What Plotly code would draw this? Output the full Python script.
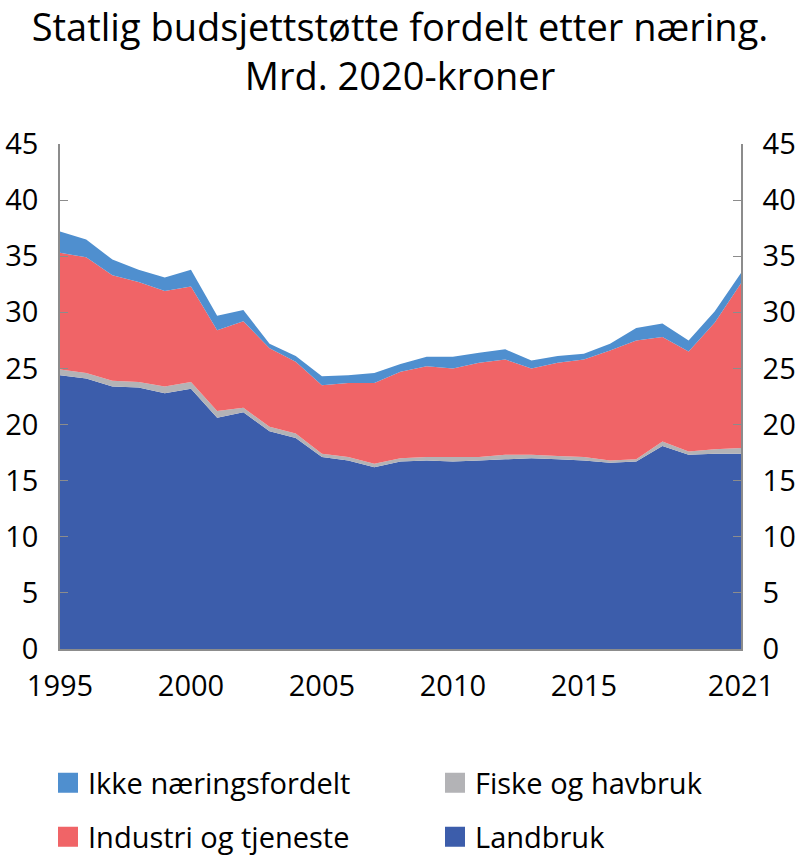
import plotly.graph_objects as go

years = list(range(1995, 2022))

# Values per category (Mrd. 2020-kroner)
landbruk = [24.4, 24.1, 23.4, 23.3, 22.8, 23.2, 20.6, 21.1, 19.4, 18.8, 17.1, 16.8, 16.2,
            16.7, 16.8, 16.7, 16.8, 16.9, 17.0, 16.9, 16.8, 16.6, 16.7, 18.1, 17.3, 17.4, 17.4]
fiske = [0.5, 0.5, 0.5, 0.5, 0.6, 0.6, 0.6, 0.4, 0.4, 0.4, 0.3, 0.3, 0.3,
         0.3, 0.3, 0.4, 0.3, 0.4, 0.3, 0.3, 0.3, 0.2, 0.2, 0.4, 0.3, 0.4, 0.5]
industri = [10.4, 10.3, 9.4, 8.9, 8.5, 8.5, 7.2, 7.7, 7.0, 6.4, 6.1, 6.6, 7.2,
            7.7, 8.1, 7.9, 8.4, 8.5, 7.7, 8.3, 8.7, 9.8, 10.6, 9.3, 8.9, 11.3, 14.7]
ikke = [1.9, 1.6, 1.4, 1.1, 1.2, 1.5, 1.3, 1.0, 0.4, 0.5, 0.8, 0.7, 0.9,
        0.7, 0.85, 1.05, 0.9, 0.9, 0.7, 0.6, 0.5, 0.6, 1.1, 1.2, 1.0, 1.0, 0.9]

series = [
    ("Landbruk", landbruk, "#3C5DAB"),
    ("Fiske og havbruk", fiske, "#B3B3B6"),
    ("Industri og tjeneste", industri, "#F06467"),
    ("Ikke næringsfordelt", ikke, "#4F8FCF"),
]

x_ticks = [1995, 2000, 2005, 2010, 2015, 2021]
y_ticks = list(range(0, 50, 5))

FONT = "Open Sans"
W, H = 800, 866
L, R, T, B = 60, 59, 144, 217
PW, PH = W - L - R, H - T - B

fig = go.Figure()

for name, vals, col in series:
    fig.add_trace(go.Scatter(
        x=years, y=vals, name=name, stackgroup="one", mode="none",
        fillcolor=col, line=dict(width=0), showlegend=False, hoverinfo="x+y+name"))

# legend entries (square markers), one legend box per entry in a 2x2 grid
order = ["Ikke næringsfordelt", "Fiske og havbruk", "Industri og tjeneste", "Landbruk"]
legend_ids = ["legend", "legend2", "legend3", "legend4"]
cols = {n: c for n, _, c in series}
for name, lid in zip(order, legend_ids):
    fig.add_trace(go.Scatter(
        x=[None], y=[None], mode="markers", name=name,
        marker=dict(symbol="square", size=16, color=cols[name],
                    line=dict(width=4, color=cols[name])),
        legend=lid, showlegend=True))

# invisible trace for the right axis
fig.add_trace(go.Scatter(x=[years[0]], y=[0], yaxis="y2", mode="none",
                         showlegend=False, hoverinfo="skip"))

axis_common = dict(
    range=[0, 45], tickvals=y_ticks, ticks="inside", ticklen=8, tickcolor="#8c8c8c",
    showline=True, linecolor="#8c8c8c", linewidth=1.5, showgrid=False, zeroline=False,
    tickfont=dict(family=FONT, size=29, color="#000"),
)

legend_font = dict(family=FONT, size=29, color="#000")

def px_x(p):
    return (p - L) / PW

def px_y(p):
    return (H - B - p) / PH

legend_pos = {
    "legend": (px_x(48), px_y(783)),
    "legend2": (px_x(435), px_y(783)),
    "legend3": (px_x(48), px_y(837)),
    "legend4": (px_x(435), px_y(837)),
}
legend_layout = {}
for lid, (lx, ly) in legend_pos.items():
    legend_layout[lid] = dict(orientation="h", x=lx, xanchor="left", y=ly, yanchor="middle",
                              font=legend_font, bgcolor="rgba(0,0,0,0)")

fig.update_layout(
    width=W, height=H,
    paper_bgcolor="white", plot_bgcolor="white",
    margin=dict(l=L, r=R, t=T, b=B, autoexpand=False),
    title=dict(text="Statlig budsjettstøtte fordelt etter næring.<br>Mrd. 2020-kroner",
               x=0.5, xanchor="center", yref="container", y=1 - 41 / H, yanchor="top",
               font=dict(family=FONT, size=38, color="#000")),
    xaxis=dict(range=[1995, 2021], tickvals=x_ticks, ticktext=[str(t) for t in x_ticks],
               showline=True, linecolor="#8c8c8c", linewidth=1.5, ticks="", showgrid=False,
               zeroline=False, ticklabelstandoff=10,
               tickfont=dict(family=FONT, size=29, color="#000")),
    yaxis=dict(side="left", ticklabelstandoff=14, **axis_common),
    yaxis2=dict(side="right", overlaying="y", ticklabelstandoff=14, **axis_common),
    **legend_layout,
)

fig.write_html("out.html", config={"displayModeBar": False},
               post_script="document.body.style.margin='0px';")
